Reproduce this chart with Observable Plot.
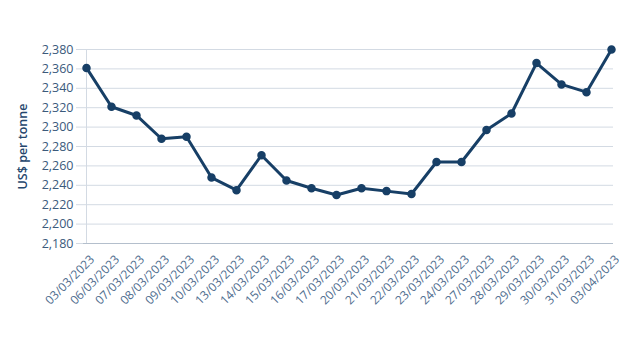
<!DOCTYPE html>
<html>
<head>
<meta charset="utf-8">
<script src="https://cdn.jsdelivr.net/npm/d3@7"></script>
<script src="https://cdn.jsdelivr.net/npm/@observablehq/plot@0.6"></script>
<style>
  html, body { margin: 0; padding: 0; background: #fff; }
  #chart { width: 629px; height: 343px; }
</style>
</head>
<body>
<div id="chart"></div>
<script>
const dates = ["03/03/2023","06/03/2023","07/03/2023","08/03/2023","09/03/2023","10/03/2023","13/03/2023","14/03/2023","15/03/2023","16/03/2023","17/03/2023","20/03/2023","21/03/2023","22/03/2023","23/03/2023","24/03/2023","27/03/2023","28/03/2023","29/03/2023","30/03/2023","31/03/2023","03/04/2023"];
const prices = [2361,2321,2312,2288,2290,2248,2235,2271,2245,2237,2230,2237,2234,2231,2264,2264,2297,2314,2366,2344,2336,2380];
const yTicks = [2180,2200,2220,2240,2260,2280,2300,2320,2340,2360,2380];
const yLabel = "US$ per tonne";

const data = dates.map((d, i) => ({date: d, price: prices[i]}));
const fmt = d3.format(",");
const textColor = "#3b5a7c";
const xTextColor = "#4f6d8f";
const lineColor = "#173f66";
const gridColor = "#d3dae3";

const chart = Plot.plot({
  width: 629,
  height: 343,
  marginLeft: 83,
  marginRight: 16,
  marginTop: 49,
  marginBottom: 100,
  style: {fontFamily: "'Open Sans', sans-serif", fontSize: "12px", color: textColor, background: "#fff"},
  x: {type: "point", domain: dates, padding: 0},
  y: {domain: [2180, 2380]},
  marks: [
    Plot.ruleY(yTicks, {stroke: gridColor, strokeWidth: 1}),
    Plot.ruleX([dates[0]], {stroke: gridColor, strokeWidth: 1}),
    Plot.ruleY([2180], {stroke: "#b4bfcc", strokeWidth: 1}),
    Plot.axisY({ticks: yTicks, tickFormat: fmt, tickSize: 7, stroke: gridColor, tickPadding: 3, fontSize: 12.5, label: null}),
    Plot.axisX({tickRotate: -45, tickSize: 0, tickPadding: 14, dx: 6, fontSize: 12, fill: xTextColor, label: null}),
    Plot.text([yLabel], {frameAnchor: "left", textAnchor: "middle", dx: -61, rotate: -90, fontSize: 12.5, fontWeight: 600, fill: "#24466d"}),
    Plot.line(data, {x: "date", y: "price", stroke: lineColor, strokeWidth: 3, strokeLinejoin: "round"}),
    Plot.dot(data, {x: "date", y: "price", r: 3.5, fill: lineColor, stroke: lineColor})
  ]
});
document.getElementById("chart").appendChild(chart);
</script>
</body>
</html>
